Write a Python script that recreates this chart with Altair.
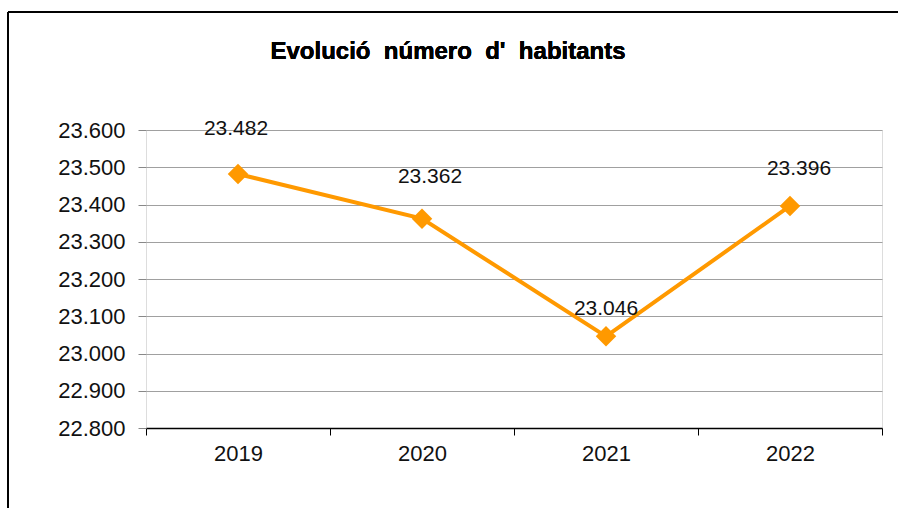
import altair as alt
import pandas as pd

years = ["2019", "2020", "2021", "2022"]
habitants = [23482, 23362, 23046, 23396]
# label nudges (pixels) as Excel placed them
label_dx = [-2, 8, 0, 9]
label_dy = [-45, -42, -27, -37]

df = pd.DataFrame({"year": years, "hab": habitants})

FONT = "Liberation Sans"
FS = 22

x = alt.X("year:N", title=None, sort=years,
          scale=alt.Scale(paddingInner=0, paddingOuter=0),
          axis=alt.Axis(labelAngle=0, tickBand="extent", tickSize=7, tickColor="#000",
                        domainColor="#000", domainWidth=1.5, labelPadding=8,
                        labelFontSize=FS, labelFont=FONT, labelColor="#111", grid=False))
y = alt.Y("hab:Q", title=None,
          scale=alt.Scale(domain=[22800, 23600], nice=False, zero=False),
          axis=alt.Axis(values=list(range(22800, 23601, 100)), tickSize=8, tickColor="#888",
                        domain=False, labelPadding=13, labelFontSize=FS, labelFont=FONT,
                        labelColor="#111", gridColor="#a0a0a0", gridWidth=1,
                        labelExpr="replace(format(datum.value, ',d'), ',', '.')"))

base = alt.Chart(df)
line = base.mark_line(color="#FF9900", strokeWidth=4).encode(x=x, y=y)
pts = base.mark_point(shape="diamond", filled=True, size=420, color="#FF9900", opacity=1).encode(x=x, y=y)

labels = []
for yr, dxv, dyv in zip(years, label_dx, label_dy):
    labels.append(
        base.transform_filter(alt.datum.year == yr)
        .transform_calculate(lbl="replace(format(datum.hab, ',d'), ',', '.')")
        .mark_text(fontSize=FS - 1, font=FONT, color="#111", dx=dxv, dy=dyv)
        .encode(x=x, y=y, text="lbl:N")
    )

title = alt.Chart(df).mark_text(text="Evolució\u00a0 número\u00a0 d'\u00a0 habitants", font=FONT,
                                fontSize=24, fontWeight="bold", color="#000", align="center",
                                baseline="middle").encode(
    x=alt.value(302), y=alt.value(-78))

frame_v = alt.Chart(df).mark_rule(color="#000", strokeWidth=1.5).encode(
    x=alt.value(-138), y=alt.value(-118), y2=alt.value(400))
frame_h = alt.Chart(df).mark_rule(color="#000", strokeWidth=1.5).encode(
    x=alt.value(-138), x2=alt.value(760), y=alt.value(-118))

chart = alt.layer(frame_v, frame_h, title, line, pts, *labels).properties(
    width=736, height=298,
    autosize=alt.AutoSizeParams(type="none"),
    padding={"left": 146, "top": 130, "right": 16, "bottom": 80},
).configure_view(stroke="#888", strokeWidth=1.5).configure(background="white")

chart.save("out.html", embed_options={"renderer": "svg", "actions": False})
